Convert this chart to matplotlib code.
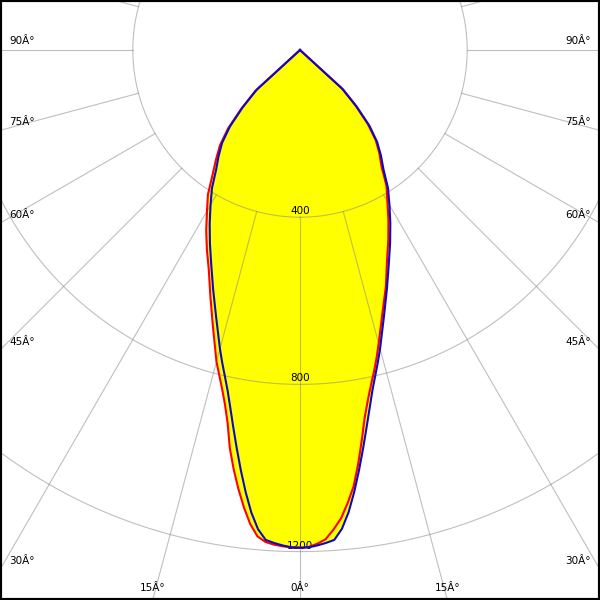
import numpy as np
import matplotlib
matplotlib.use("Agg")
import matplotlib.pyplot as plt
from matplotlib.patches import Rectangle

# gamma angles (deg from nadir) and intensities (cd) per half-plane
GAMMA = [0, 1, 2, 3, 4, 5, 6, 7, 8, 9, 10, 11, 12, 13, 14, 15, 17.5, 20, 22.5, 25,
         27.5, 30, 32.5, 35, 37.5, 40, 42.5, 45, 47.5, 50]
C0   = [1191, 1189, 1182, 1172, 1150, 1125, 1090, 1052, 1000, 945, 892, 852, 818, 788, 758,
        727, 657, 601, 544, 500, 458, 418, 385, 340, 312, 282, 240, 188, 135, 0]
C180 = [1190, 1190, 1188, 1185, 1180, 1168, 1140, 1102, 1060, 1015, 967, 908, 865, 830, 800,
        772, 693, 627, 570, 527, 486, 445, 410, 365, 330, 298, 255, 198, 145, 0]
C90  = [1191, 1190, 1186, 1181, 1175, 1150, 1112, 1065, 1015, 965, 917, 873, 833, 800, 770,
        740, 668, 608, 555, 510, 468, 428, 392, 348, 318, 287, 246, 192, 140, 0]
C270 = [1191, 1190, 1186, 1181, 1175, 1151, 1113, 1066, 1016, 966, 918, 873, 833, 800, 770,
        740, 668, 608, 555, 510, 468, 428, 392, 350, 320, 290, 248, 194, 140, 0]

RINGS       = [400, 800, 1200, 1600]
RING_LABELS = ["400", "800", "1200", ""]
SPOKES      = list(range(-180, 181, 15))
TICK_ANGLES = [0, 15, 30, 45, 60, 75, 90]

CX, CY = 300, 50     # pole position in pixels
PX_PER_CD = 0.418
W = H = 600

def to_xy(ang_deg, r_cd, side=1):
  a = np.radians(np.asarray(ang_deg, float))
  r = np.asarray(r_cd, float) * PX_PER_CD
  return CX + side * r * np.sin(a), CY + r * np.cos(a)

def outline(right, left):
  xr, yr = to_xy(GAMMA, right, 1)
  xl, yl = to_xy(GAMMA, left, -1)
  return np.r_[xl[::-1], xr], np.r_[yl[::-1], yr]

fig = plt.figure(figsize=(6, 6), dpi=100)
ax = fig.add_axes([0, 0, 1, 1])
ax.set_xlim(0, W); ax.set_ylim(H, 0)
ax.axis("off")

red_x, red_y = outline(C0, C180)
blue_x, blue_y = outline(C90, C270)
ax.fill(red_x, red_y, color="#ffff00", lw=0, zorder=1)
ax.fill(blue_x, blue_y, color="#ffff00", lw=0, zorder=1)

# grid
t = np.linspace(0, 360, 721)
for r in RINGS:
  gx, gy = to_xy(t, np.full_like(t, r))
  ax.plot(gx, gy, color="#808080", lw=0.8, alpha=0.5, zorder=2)
for a in SPOKES:
  gx, gy = to_xy([abs(a), abs(a)], [RINGS[0], 3000], 1 if a >= 0 else -1)
  ax.plot(gx, gy, color="#808080", lw=0.8, alpha=0.5, zorder=2)

for r, lab in zip(RINGS, RING_LABELS):
  if lab:
    ax.text(CX, CY + r * PX_PER_CD - 1, lab, ha="center", va="bottom",
            fontsize=7.5, color="black", zorder=3)

# angle labels where the spokes leave the picture
for a in TICK_ANGLES:
  for side in (1, -1):
    if a == 0 and side == -1:
      continue
    s, c = np.sin(np.radians(a)), np.cos(np.radians(a))
    t_bot = (H - CY) / c if c > 1e-9 else np.inf
    t_side = CX / s if s > 1e-9 else np.inf
    lab = f"{a}Â°"
    if t_bot <= t_side:
      ax.text(CX + side * s * t_bot, H - 12, lab, ha="center", va="center",
              fontsize=7.5, zorder=3)
    else:
      ey = CY + c * t_side
      if side == -1:
        ax.text(9, ey - 8.5, lab, ha="left", va="center", fontsize=7.5, zorder=3)
      else:
        ax.text(W - 9, ey - 8.5, lab, ha="right", va="center", fontsize=7.5, zorder=3)

ax.plot(red_x, red_y, color="#ff0000", lw=1.5, zorder=4, solid_joinstyle="round")
ax.plot(blue_x, blue_y, color="#0a0ac8", lw=1.5, zorder=5, solid_joinstyle="round")

fig.patches.append(Rectangle((0, 0), 1, 1, transform=fig.transFigure, fill=False,
                             edgecolor="black", lw=3, zorder=10))

fig.savefig("out.png", dpi=100)
